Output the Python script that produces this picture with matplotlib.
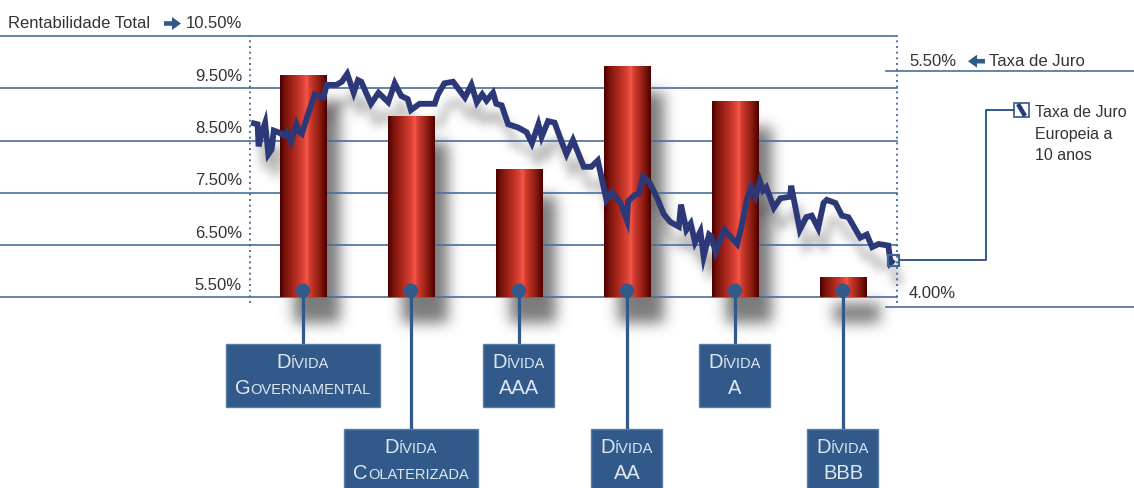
import numpy as np
import matplotlib
matplotlib.use("Agg")
import matplotlib.pyplot as plt
from matplotlib.colors import LinearSegmentedColormap
from matplotlib.patches import Rectangle, Circle, FancyArrow
from matplotlib.lines import Line2D
from matplotlib.transforms import IdentityTransform

# --- dados ---
CATEGORIAS = ["Dívida\nGovernamental", "Dívida\nColaterizada", "Dívida\nAAA",
              "Dívida\nAA", "Dívida\nA", "Dívida\nBBB"]
RENTABILIDADE = [9.73, 8.96, 7.94, 9.92, 9.25, 5.88]   # % (eixo esquerdo)
TICKS_ESQ = [10.5, 9.5, 8.5, 7.5, 6.5, 5.5]
TICKS_DIR = [5.5, 4.0]

# taxa de juro europeia a 10 anos (eixo direito), posição no tempo na escala das barras
TEMPO = [-0.48, -0.42, -0.41, -0.38, -0.35, -0.32, -0.29, -0.27, -0.23, -0.18,
         -0.15, -0.11, -0.06, -0.03, -0.01, 0.05, 0.11, 0.19, 0.22, 0.31,
         0.36, 0.41, 0.47, 0.51, 0.54, 0.63, 0.70, 0.73, 0.79, 0.85,
         0.91, 0.97, 1.00, 1.08, 1.16, 1.22, 1.25, 1.31, 1.39, 1.50,
         1.56, 1.61, 1.66, 1.70, 1.76, 1.79, 1.84, 1.90, 1.99, 2.07,
         2.12, 2.18, 2.21, 2.27, 2.33, 2.40, 2.44, 2.50, 2.60, 2.67,
         2.73, 2.81, 2.86, 2.94, 3.00, 3.01, 3.07, 3.11, 3.15, 3.21,
         3.28, 3.34, 3.40, 3.48, 3.50, 3.55, 3.59, 3.63, 3.68, 3.71,
         3.76, 3.78, 3.82, 3.90, 4.02, 4.06, 4.11, 4.15, 4.19, 4.23,
         4.26, 4.29, 4.36, 4.42, 4.51, 4.52, 4.60, 4.66, 4.71, 4.77,
         4.82, 4.85, 4.93, 4.99, 5.05, 5.16, 5.22, 5.27, 5.33, 5.42,
         5.44, 5.47]
TAXA_JURO = [5.17, 5.16, 5.02, 5.11, 5.17, 4.97, 5.00, 5.12, 5.11, 5.09,
             5.11, 5.05, 5.16, 5.11, 5.10, 5.23, 5.35, 5.33, 5.41, 5.41,
             5.43, 5.48, 5.36, 5.44, 5.43, 5.29, 5.36, 5.34, 5.30, 5.42,
             5.34, 5.32, 5.25, 5.29, 5.29, 5.29, 5.35, 5.42, 5.43, 5.33,
             5.41, 5.30, 5.35, 5.31, 5.36, 5.29, 5.28, 5.16, 5.14, 5.11,
             5.04, 5.16, 5.08, 5.18, 5.17, 5.04, 4.97, 5.06, 4.89, 4.89,
             4.93, 4.68, 4.73, 4.66, 4.55, 4.67, 4.71, 4.72, 4.83, 4.79,
             4.69, 4.59, 4.54, 4.51, 4.65, 4.49, 4.53, 4.41, 4.48, 4.32,
             4.46, 4.45, 4.35, 4.49, 4.40, 4.51, 4.68, 4.76, 4.70, 4.80,
             4.74, 4.76, 4.63, 4.69, 4.70, 4.77, 4.49, 4.57, 4.58, 4.50,
             4.66, 4.68, 4.66, 4.58, 4.57, 4.44, 4.46, 4.38, 4.40, 4.39,
             4.28, 4.30]

BASE = 5.5

AZUL = "#31598a"
GRELHA = "#4a6d9c"
NAVY = "#2c3877"
TEXTO = "#333333"

plt.rcParams["font.family"] = ["Liberation Sans", "DejaVu Sans"]

W, H = 1134, 488
fig = plt.figure(figsize=(W / 100, H / 100), dpi=100)
fig.patch.set_facecolor("white")
PX = IdentityTransform()


def yp(y):
    # pixel a contar de cima -> coordenada de ecrã
    return H - y


# área do gráfico: x 250..897, y 36..307 (pixels a partir do topo)
ax = fig.add_axes([250 / W, (H - 307) / H, 647 / W, 271 / H])
ax.set_xlim(-0.49, 5.5)
ax.set_ylim(10.5 - 271 / 52.25, 10.5)
ax.axis("off")
ax2 = ax.twinx()
ax2.set_ylim(4.0, 5.5 + (70.7 - 36) / 157.5)
ax2.axis("off")


def _blur(a, s):
    r = int(3 * s)
    k = np.exp(-0.5 * (np.arange(-r, r + 1) / s) ** 2)
    k /= k.sum()
    a = np.apply_along_axis(np.convolve, 1, a, k, mode="same")
    a = np.apply_along_axis(np.convolve, 0, a, k, mode="same")
    return a


def sombra(dx, dy, sigma, alpha, cinza):
    def filtro(im, dpi):
        pad = int(3 * sigma + max(abs(dx), abs(dy))) + 2
        src = np.pad(im, ((pad, pad), (pad, pad), (0, 0)))
        out = np.zeros_like(src)
        out[..., :3] = cinza
        out[..., 3] = np.clip(_blur(src[..., 3] * alpha, sigma), 0, 1)
        out = np.roll(out, dx, axis=1)
        out = np.roll(out, dy, axis=0)
        return out, -pad, -pad
    return filtro


x_bar = np.arange(len(RENTABILIDADE))
larg = 0.43

# linhas de grelha (esquerda) e do eixo direito
for v in TICKS_ESQ:
    ax.axhline(v, xmin=-250 / 647, xmax=1.0, color=GRELHA, lw=1.2,
               clip_on=False, zorder=1.7)
for v in TICKS_DIR:
    ax2.axhline(v, xmin=(886 - 250) / 647, xmax=(W - 250) / 647,
                color=GRELHA, lw=1.2, clip_on=False, zorder=1)

# verticais pontilhadas nos limites do gráfico
for xv in ax.get_xlim():
    ax.axvline(xv, ymin=4 / 271, ymax=1.0, color="#3a5f90", lw=1.2,
               ls=(0, (1.2, 2.2)), clip_on=False, zorder=1.8)

# sombras das barras
sb = ax.bar(x_bar, np.array(RENTABILIDADE) - BASE, bottom=BASE, width=larg,
            color="black", zorder=1.2)
for p in sb:
    p.set_agg_filter(sombra(14, 26, 7, 0.72, 0.28))
    p.set_rasterized(True)

# sombra da linha
ls_, = ax.plot(TEMPO, TAXA_JURO, color="black", lw=4.2,
               transform=ax2.transData, zorder=1.3)
ls_.set_agg_filter(sombra(6, 20, 5, 0.45, 0.3))
ls_.set_rasterized(True)

# barras cilíndricas
cmap = LinearSegmentedColormap.from_list("cil", [
    (0.0, "#4a0000"), (0.12, "#7c140c"), (0.35, "#b72d22"),
    (0.52, "#e4473a"), (0.57, "#f45848"), (0.63, "#d43d30"),
    (0.85, "#8a1a10"), (1.0, "#4c0000")])
grad = np.linspace(0, 1, 256)[None, :]
for xi, v in zip(x_bar, RENTABILIDADE):
    ax.imshow(grad, cmap=cmap, extent=(xi - larg / 2, xi + larg / 2, BASE, v),
              aspect="auto", interpolation="bilinear", zorder=2)
ax.set_xlim(-0.49, 5.5)
ax.set_ylim(10.5 - 271 / 52.25, 10.5)

# linha da taxa de juro
ax2.plot(TEMPO, TAXA_JURO, color=NAVY, lw=4.2, solid_joinstyle="miter",
         solid_capstyle="butt", zorder=3)
ax2.set_xlim(-0.49, 5.5)
ax2.set_ylim(4.0, 5.5 + (70.7 - 36) / 157.5)

# rótulos do eixo esquerdo
for v in TICKS_ESQ:
    y = ax.transData.transform((0, v))[1]
    fig.text(242, y + 7.5, f"{v:.2f}%", transform=PX, ha="right",
             va="baseline", fontsize=12, color=TEXTO)
y_top = ax.transData.transform((0, TICKS_ESQ[0]))[1]
fig.text(8, y_top + 7.5, "Rentabilidade Total", transform=PX, ha="left",
         va="baseline", fontsize=12, color=TEXTO)
fig.add_artist(FancyArrow(164, y_top + 12.5, 8, 0, width=4.6, head_width=13,
                          head_length=9, transform=PX, color=AZUL, lw=0))

# rótulos do eixo direito
for v, off in zip(TICKS_DIR, (5, 9)):
    y = ax2.transData.transform((0, v))[1]
    fig.text(909, y + off, f"{v:.2f}%", transform=PX, ha="left",
             va="baseline", fontsize=12, color=TEXTO)
y55 = ax2.transData.transform((0, TICKS_DIR[0]))[1]
fig.add_artist(FancyArrow(985, y55 + 9.5, -8, 0, width=4.6, head_width=13,
                          head_length=9, transform=PX, color=AZUL, lw=0))
fig.text(989, y55 + 5, "Taxa de Juro", transform=PX, ha="left",
         va="baseline", fontsize=12, color=TEXTO)

# quadrado no fim da linha e ligação à legenda
xe, ye = ax2.transData.transform((TEMPO[-1], TAXA_JURO[-1]))
fig.add_artist(Rectangle((xe - 5.5, ye - 6), 11, 11, transform=PX, fc="none",
                         ec="#3d6696", lw=1.5, zorder=4))
fig.add_artist(Line2D([xe + 5.5, 986, 986, 1014], [ye, ye, yp(110), yp(110)],
                      transform=PX, color=AZUL, lw=1.4))
fig.add_artist(Rectangle((1014, yp(117)), 15, 14, transform=PX, fc="white",
                         ec="#3d6696", lw=1.3))
fig.add_artist(Line2D([1018, 1025], [yp(104), yp(116)], transform=PX,
                      color=NAVY, lw=3.2, solid_capstyle="butt"))
for i, s in enumerate(["Taxa de Juro", "Europeia a", "10 anos"]):
    fig.text(1035, yp(117 + 21.5 * i), s, transform=PX, ha="left",
             va="baseline", fontsize=11.5, color=TEXTO)

# caixas com as categorias
renderer = fig.canvas.get_renderer()
CLARO = "#dfe7f1"


def versalete(xc, yb, texto, grande=14.5, pequena=10.5):
    # minúsculas desenhadas como maiúsculas pequenas
    runs = []
    for ch in texto:
        g = not ch.islower()
        if runs and runs[-1][1] == g:
            runs[-1][0] += ch
        else:
            runs.append([ch, g])
    partes, x = [], 0.0
    for s, g in runs:
        t = fig.text(0, yb, s.upper(), transform=PX, ha="left", va="baseline",
                     fontsize=grande if g else pequena, color=CLARO, zorder=6)
        partes.append((t, x))
        x += t.get_window_extent(renderer).width
    for t, dx in partes:
        t.set_x(xc - x / 2 + dx)
    return x


for i, (xi, cat) in enumerate(zip(x_bar, CATEGORIAS)):
    xc, yb = ax.transData.transform((xi, BASE))
    cy = yb + 6.5
    topo = 344 if i % 2 == 0 else 429
    fig.add_artist(Line2D([xc, xc], [cy, yp(topo)], transform=PX, color=AZUL,
                          lw=2.3, zorder=5))
    fig.add_artist(Circle((xc, cy), 6.5, transform=PX, color=AZUL, zorder=5))
    linhas = cat.split("\n")
    larguras = [versalete(xc, yp(topo + 24 + 26 * k), ln)
                for k, ln in enumerate(linhas)]
    bw = max(71, max(larguras) + 18)
    fig.add_artist(Rectangle((xc - bw / 2, yp(topo + 62.5)), bw, 62.5,
                             transform=PX, fc=AZUL, ec="#5a7eaa", lw=1,
                             zorder=5.5))

fig.savefig("out.png", dpi=100, facecolor="white")
